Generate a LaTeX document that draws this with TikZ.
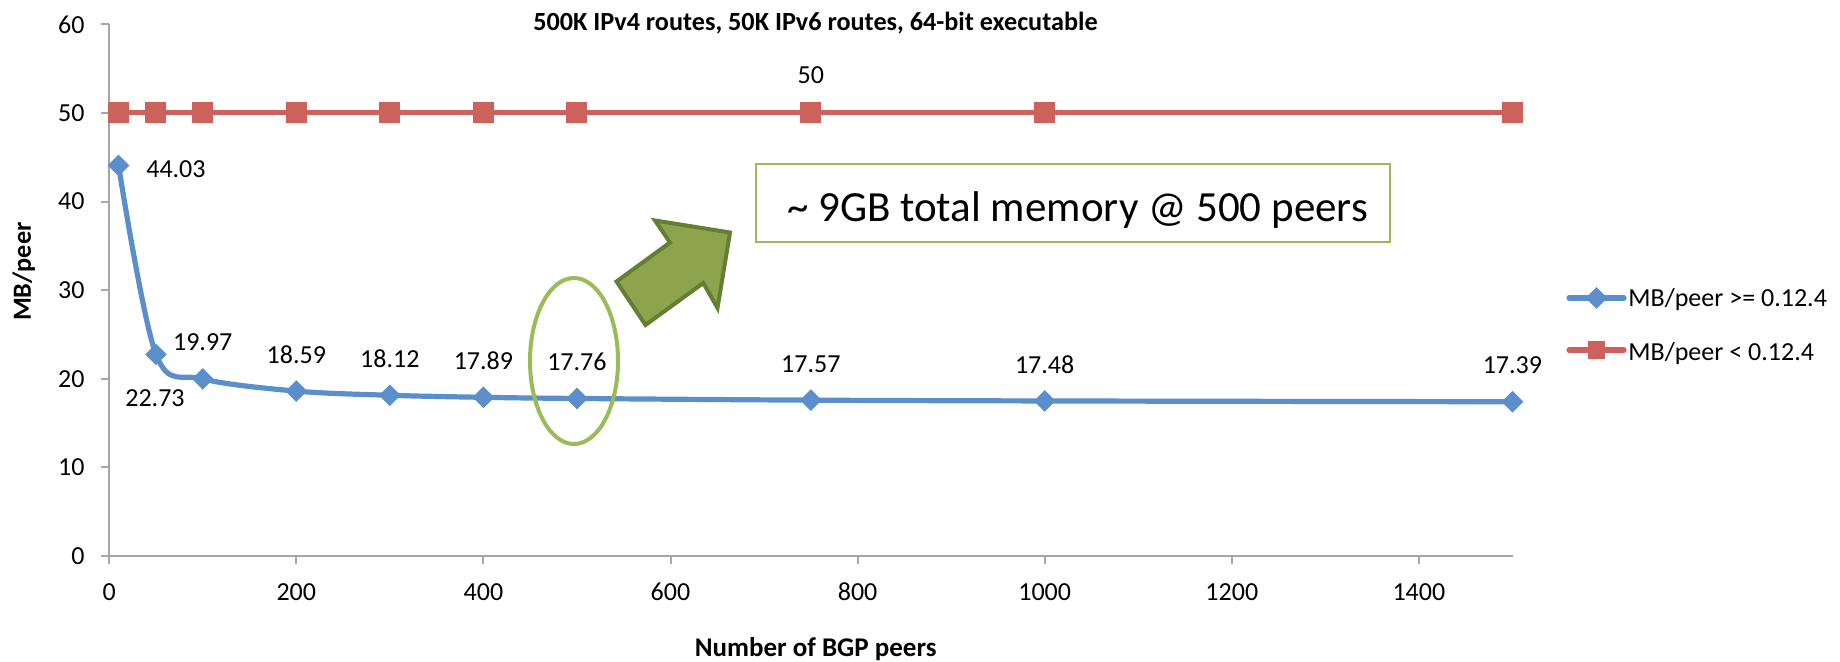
\documentclass[tikz,border=0pt]{standalone}
\usepackage{fontspec}
\setmainfont{Carlito}
\usetikzlibrary{shapes.geometric}

\definecolor{serA}{HTML}{5A8FCB}
\definecolor{serB}{HTML}{CD625C}
\definecolor{axisgray}{HTML}{A6A6A6}
\definecolor{olive}{HTML}{9BBB59}
\definecolor{arrowfill}{HTML}{8CA44C}
\definecolor{arrowedge}{HTML}{667E34}

\tikzset{
  axisline/.style={draw=axisgray, line width=1pt},
  ticklabel/.style={inner sep=0pt, font=\fontsize{13pt}{15pt}\selectfont},
  val/.style={inner sep=0pt, font=\fontsize{13pt}{15pt}\selectfont},
  boldlabel/.style={inner sep=0pt, font=\fontsize{13.1pt}{15pt}\selectfont\bfseries},
  diamondmark/.style={diamond, fill=serA, draw=none, inner sep=0pt, minimum width=11pt, minimum height=11pt},
  squaremark/.style={rectangle, fill=serB, draw=none, inner sep=0pt, minimum size=10.5pt},
  seriesA/.style={draw=serA, line width=2.6pt},
  seriesB/.style={draw=serB, line width=2.6pt},
  callout/.style={draw=olive, line width=1pt, inner sep=0pt, minimum width=317pt, minimum height=38.8pt},
  ring/.style={ellipse, draw=olive, line width=2pt, inner sep=0pt, minimum width=44pt, minimum height=83pt},
  bigarrow/.style={fill=arrowfill, draw=arrowedge, line width=2pt, line join=miter}
}

\begin{document}
\begin{tikzpicture}[x=0.5pt, y=-0.5pt]
\useasboundingbox (0,0) rectangle (1840,662);

% title
\node[boldlabel, anchor=base] (title) at (815.5,30.7) {500K IPv4 routes, 50K IPv6 routes, 64-bit executable};

% axes
\coordinate (origin) at (109.2,556);
\coordinate (ytop) at (109.2,24.4);
\coordinate (xend) at (1512.5,556);
\draw[axisline] (ytop) -- (origin);
\draw[axisline, line width=1.4pt] (101,556) -- (xend);
\foreach \k in {0,...,6} {
  \pgfmathsetmacro{\yy}{556-88.6*\k}
  \pgfmathtruncatemacro{\lab}{10*\k}
  \coordinate (yt\k) at (109.2,\yy);
  \draw[axisline] (101,\yy) -- (yt\k);
  \node[ticklabel, anchor=east] (ylab\k) at (85,\yy) {\lab};
}
\foreach \k in {0,...,7} {
  \pgfmathsetmacro{\xx}{109.2+187.1*\k}
  \pgfmathtruncatemacro{\lab}{200*\k}
  \coordinate (xt\k) at (\xx,556);
  \draw[axisline] (xt\k) -- (\xx,563.5);
  \node[ticklabel] (xlab\k) at (\xx,592) {\lab};
}

% axis titles
\node[boldlabel, anchor=base, font=\fontsize{13.5pt}{15pt}\selectfont\bfseries] (xtitle) at (815.7,656.7) {Number of BGP peers};
\node[boldlabel, anchor=base, rotate=90] (ytitle) at (31,271.7) {MB/peer};

% data
\begin{scope}[shift={(54.6pt,-278pt)}, x=0.46775pt, y=4.435pt]
  \foreach \i/\vx/\vy in {1/10/44.03, 2/50/22.73, 3/100/19.97, 4/200/18.59, 5/300/18.12,
                         6/400/17.89, 7/500/17.76, 8/750/17.57, 9/1000/17.48, 10/1500/17.39}
    \coordinate (b\i) at (\vx,\vy);
  \foreach \i/\vx in {1/10, 2/50, 3/100, 4/200, 5/300, 6/400, 7/500, 8/750, 9/1000, 10/1500}
    \coordinate (r\i) at (\vx,50);
\end{scope}

% series drawn below the markers
\draw[seriesB] (r1) -- (r10);
\draw[seriesA] plot[smooth, tension=0.55] coordinates {(b1) (b2) (b3) (b4) (b5) (b6) (b7) (b8) (b9) (b10)};
\foreach \i in {1,...,10} {
  \node[squaremark] (rm\i) at (r\i) {};
  \node[diamondmark] (bm\i) at (b\i) {};
}

% data labels
\node[val] (lr8) at ([yshift=18.7pt]r8) {50};
\node[val] (lb1) at ([xshift=28.7pt, yshift=-1.8pt]b1) {44.03};
\node[val] (lb2) at ([xshift=-0.5pt, yshift=-21.8pt]b2) {22.73};
\foreach \i/\t in {3/19.97, 4/18.59, 5/18.12, 6/17.89, 7/17.76, 8/17.57, 9/17.48, 10/17.39}
  \node[val] (lb\i) at ([yshift=18.2pt]b\i) {\t};

% highlight ring around the 500-peer point
\node[ring] (hl) at (574,361) {};

% block arrow pointing at the note
\draw[bigarrow] (616.5,281.5) -- (670,242.5) -- (655,220.5) -- (730,232.5)
  -- (717.5,308) -- (703.3,283) -- (645.5,325) -- cycle;

% note box
\node[callout] (notebox) at (1072.7,202.9) {};
\node[anchor=base, inner sep=0pt, font=\fontsize{21.5pt}{24pt}\selectfont] (note) at (1077.5,221.7)
  {\textasciitilde{} 9GB total memory @ 500 peers};

% legend
\coordinate (la1) at (1569,298);
\coordinate (la2) at (1624,298);
\coordinate (lb1x) at (1569,350);
\coordinate (lb2x) at (1624,350);
\draw[seriesA, line cap=round] (la1) -- (la2);
\node[diamondmark] (legA) at (1596.5,298) {};
\node[val, anchor=base west] (legAt) at (1628,306.7) {MB/peer >= 0.12.4};
\draw[seriesB, line cap=round] (lb1x) -- (lb2x);
\node[squaremark, minimum size=8.8pt] (legB) at (1596.5,350) {};
\node[val, anchor=base west] (legBt) at (1628,360.7) {MB/peer < 0.12.4};
\end{tikzpicture}
\end{document}
